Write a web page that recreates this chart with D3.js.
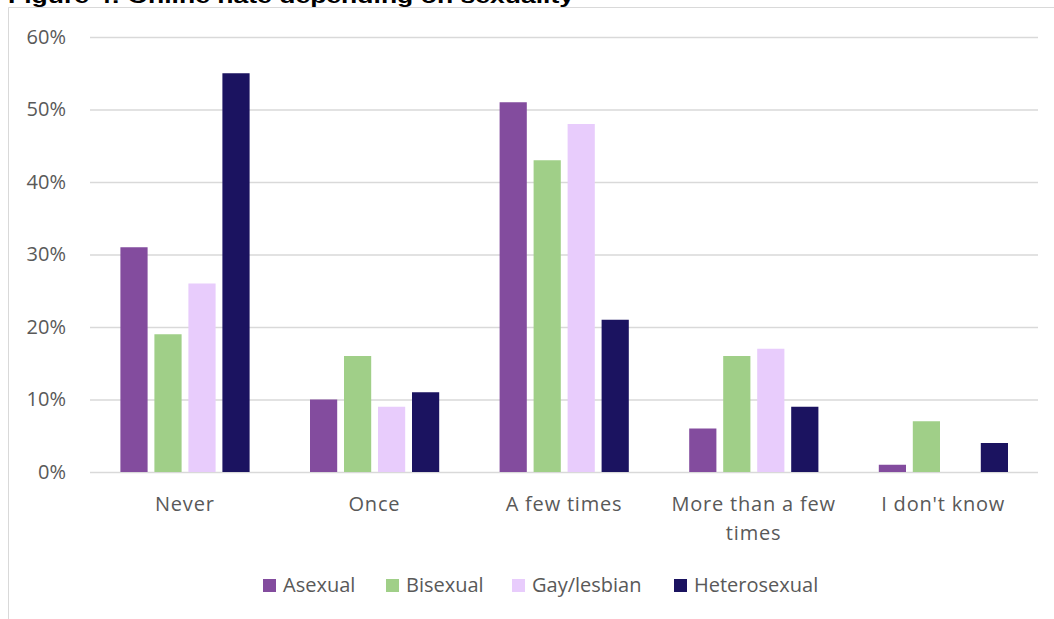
<!DOCTYPE html>
<html>
    <head>
        <script src="https://d3js.org/d3.v7.min.js"></script>
        <style>
            body { margin: 0; background-color: #ffffff; }
            svg { display: block; }
        </style>
    </head>
    <body>
        <div id="chart"></div>
        <script>
            const categories = ["Never", "Once", "A few times", "More than a few times", "I don't know"];
            const groups = ["Asexual", "Bisexual", "Gay/lesbian", "Heterosexual"];
            const asexual = [31, 10, 51, 6, 1];
            const bisexual = [19, 16, 43, 16, 7];
            const gayLesbian = [26, 9, 48, 17, 0];
            const heterosexual = [55, 11, 21, 9, 4];
            const yTicks = [0, 10, 20, 30, 40, 50, 60];
            const colors = ["#834c9e", "#a0cf88", "#e8ccfc", "#1b1360"];

            const series = [asexual, bisexual, gayLesbian, heterosexual];
            const W = 1054, H = 619;
            const plot = { left: 90, right: 1038, top: 37, bottom: 472 };
            const font = "'Open Sans', sans-serif";

            const svg = d3.select("#chart").append("svg").attr("width", W).attr("height", H);

            // chart frame (cut off on right/bottom like the source)
            svg.append("path").attr("d", `M8.5,${H} V7.5 H${W}`)
                .attr("fill", "none").attr("stroke", "#d9d9d9").attr("stroke-width", 1);

            svg.append("text").attr("x", 8).attr("y", 3)
                .attr("font-family", "'Liberation Sans', Arial, sans-serif")
                .attr("font-weight", "bold").attr("font-size", 20)
                .attr("textLength", 566).attr("lengthAdjust", "spacingAndGlyphs")
                .attr("fill", "#000")
                .text("Figure 4: Online hate depending on sexuality");

            const y = d3.scaleLinear().domain([0, 60]).range([plot.bottom, plot.top]);
            const x0 = d3.scaleBand().domain(categories).range([plot.left, plot.right]);
            const x1 = d3.scaleBand().domain(groups).range([27, 163]).paddingInner(0.2).paddingOuter(0.1);

            // gridlines + y labels
            const yAxis = svg.append("g").attr("transform", `translate(${plot.left},0)`)
                .call(d3.axisLeft(y).tickValues(yTicks).tickSize(-(plot.right - plot.left)).tickPadding(24)
                    .tickFormat(d => d + "%"));
            yAxis.select(".domain").remove();
            yAxis.selectAll("line").attr("stroke", "#d9d9d9").attr("stroke-width", 1.5);
            yAxis.selectAll("text").attr("font-family", font).attr("font-size", 20).attr("fill", "#595959");

            // bars
            const rows = categories.map((c, i) => groups.map((g, j) => ({ cat: c, key: g, value: series[j][i], color: colors[j] })));
            svg.append("g").selectAll("g").data(rows).join("g")
                .attr("transform", (d, i) => `translate(${x0(categories[i])},0)`)
                .selectAll("rect").data(d => d).join("rect")
                .attr("x", d => x1(d.key))
                .attr("width", x1.bandwidth())
                .attr("y", d => y(d.value))
                .attr("height", d => y(0) - y(d.value))
                .attr("fill", d => d.color);

            // category labels (wrap long one)
            const xLab = svg.append("g").attr("font-family", font).attr("font-size", 20).attr("fill", "#595959")
                .attr("text-anchor", "middle").attr("letter-spacing", 0.8);
            categories.forEach(c => {
                const lines = c === "More than a few times" ? ["More than a few", "times"] : [c];
                const cx = x0(c) + x0.bandwidth() / 2;
                const t = xLab.append("text").attr("x", cx).attr("y", 511);
                lines.forEach((l, k) => t.append("tspan").attr("x", cx).attr("dy", k === 0 ? 0 : 29).text(l));
            });

            // legend
            const legendX = [263, 386, 512, 674];
            const legend = svg.append("g").attr("font-family", font).attr("font-size", 20).attr("fill", "#595959");
            groups.forEach((g, j) => {
                legend.append("rect").attr("x", legendX[j]).attr("y", 579).attr("width", 13).attr("height", 13).attr("fill", colors[j]);
                legend.append("text").attr("x", legendX[j] + 20).attr("y", 592).text(g);
            });
        </script>
    </body>
</html>
